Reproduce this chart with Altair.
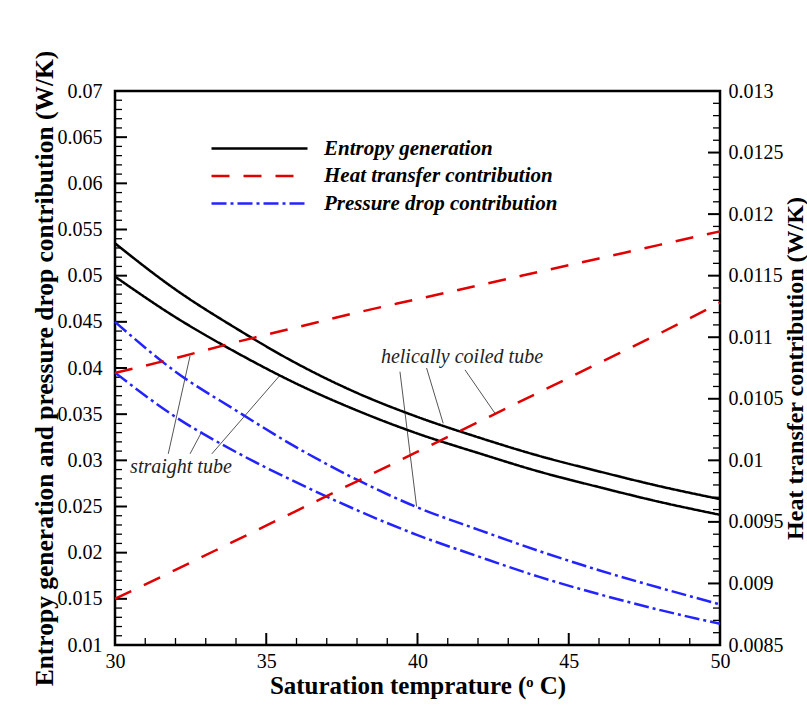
import altair as alt
import pandas as pd

# ---------------- data ----------------
temps = [30, 32, 34, 36, 38, 40, 42, 44, 46, 48, 50]

entropy_helical = [0.0535, 0.0485, 0.0443, 0.0405, 0.0373, 0.0347, 0.0325, 0.0305, 0.0288, 0.0272, 0.0258]
entropy_straight = [0.0499, 0.0455, 0.0417, 0.0383, 0.0354, 0.0329, 0.0308, 0.0288, 0.0271, 0.0255, 0.0241]
pressure_helical = [0.0450, 0.0396, 0.0354, 0.0314, 0.0279, 0.0249, 0.0225, 0.0202, 0.0181, 0.0162, 0.0144]
pressure_straight = [0.0395, 0.0347, 0.0309, 0.0276, 0.0246, 0.0219, 0.0196, 0.0174, 0.0155, 0.0138, 0.0123]
heat_straight = [0.01071, 0.01083, 0.01096, 0.01108, 0.01120, 0.01131, 0.01142, 0.01153, 0.01164, 0.01175, 0.01186]
heat_helical = [0.008875, 0.00911, 0.00935, 0.00959, 0.00983, 0.01007, 0.01031, 0.01055, 0.01079, 0.01103, 0.01128]

series_names = ["Entropy generation", "Heat transfer contribution", "Pressure drop contribution"]
series_colors = ["#000000", "#e00000", "#2323ff"]
series_dashes = [[1, 0], [18, 14], [15, 4, 3, 4]]

# annotation leader lines (start -> end, left-axis units)
leader_t = [31.76, 32.48, 33.20, 39.42, 40.30, 41.57]
leader_v = [0.0307, 0.0307, 0.0307, 0.0396, 0.0400, 0.0398]
leader_t2 = [32.48, 32.87, 35.45, 39.97, 40.85, 42.56]
leader_v2 = [0.0413, 0.0331, 0.0392, 0.0250, 0.0340, 0.0351]

note_labels = ["straight tube", "helically coiled tube"]
note_t = [32.18, 41.47]
note_v = [0.0293, 0.0412]

x_major = [30, 35, 40, 45, 50]
x_minor = [t for t in range(30, 51) if t % 5]
left_major = [round(0.01 + 0.005 * i, 4) for i in range(13)]
left_minor = [round(0.01 + 0.001 * i, 4) for i in range(61) if i % 5]
right_major = [round(0.0085 + 0.0005 * i, 5) for i in range(10)]
right_minor = [round(0.0085 + 0.0001 * i, 5) for i in range(46) if i % 5]

# ---------------- tables ----------------
rows_left = []
for name, tube, vals in [
    ("Entropy generation", "helical", entropy_helical),
    ("Entropy generation", "straight", entropy_straight),
    ("Pressure drop contribution", "helical", pressure_helical),
    ("Pressure drop contribution", "straight", pressure_straight),
]:
    for t, v in zip(temps, vals):
        rows_left.append({"t": t, "v": v, "series": name, "tube": tube})
df_left = pd.DataFrame(rows_left)

rows_right = []
for name, tube, vals in [
    ("Heat transfer contribution", "straight", heat_straight),
    ("Heat transfer contribution", "helical", heat_helical),
]:
    for t, v in zip(temps, vals):
        rows_right.append({"t": t, "v": v, "series": name, "tube": tube})
df_right = pd.DataFrame(rows_right)

df_leaders = pd.DataFrame({"t": leader_t, "v": leader_v, "t2": leader_t2, "v2": leader_v2})
df_notes = pd.DataFrame({"t": note_t, "v": note_v, "label": note_labels})

W, H = 605, 554
SERIF = "Liberation Serif"

# ---------------- encodings ----------------
x_axis = alt.Axis(values=x_major, format="d", title="Saturation temprature (ᵒ C)",
                  titleFont=SERIF, titleFontSize=25, titleFontWeight="bold", titleColor="black",
                  labelFont=SERIF, labelFontSize=20, labelColor="black", labelFlush=False,
                  domain=False, ticks=False, grid=False, labelPadding=6, titlePadding=2)
left_axis = alt.Axis(orient="left", values=left_major, format=".3~f",
                     title="Entropy generation and pressure drop contribution (W/K)",
                     titleFont=SERIF, titleFontSize=25.5, titleFontWeight="bold", titleColor="black",
                     labelFont=SERIF, labelFontSize=20, labelColor="black", labelFlush=False,
                     domain=False, ticks=False, grid=False, labelPadding=13, titlePadding=0)
right_axis = alt.Axis(orient="right", values=right_major, format=".5~f",
                      title="Heat transfer contribution (W/K)",
                      titleFont=SERIF, titleFontSize=24, titleFontWeight="bold", titleColor="black",
                      titleAngle=270, titleBaseline="top",
                      labelFont=SERIF, labelFontSize=20, labelColor="black", labelFlush=False,
                      domain=False, ticks=False, grid=False, labelPadding=8, titlePadding=0)

x_enc = alt.X("t:Q", scale=alt.Scale(domain=[30, 50], nice=False, zero=False), axis=x_axis)
left_y = alt.Y("v:Q", scale=alt.Scale(domain=[0.01, 0.07], nice=False, zero=False), axis=left_axis)
right_y = alt.Y("v:Q", scale=alt.Scale(domain=[0.0085, 0.013], nice=False, zero=False), axis=right_axis)

legend = alt.Legend(title=None, orient="none", legendX=131, legendY=44,
                    symbolType="M-4,0L4,0", symbolSize=576, symbolStrokeWidth=2.5,
                    labelFont=SERIF, labelFontSize=21, labelFontStyle="italic",
                    labelFontWeight="bold", labelColor="black", labelOffset=51,
                    rowPadding=3.5, padding=0, labelLimit=500)
color_enc = alt.Color("series:N", scale=alt.Scale(domain=series_names, range=series_colors), legend=legend)
dash_enc = alt.StrokeDash("series:N", scale=alt.Scale(domain=series_names, range=series_dashes), legend=legend)

# ---------------- left-axis layer ----------------
left_lines = alt.Chart(df_left).mark_line(strokeWidth=2.5, interpolate="monotone").encode(
    x=x_enc, y=left_y, color=color_enc, strokeDash=dash_enc, detail="tube:N")

leaders = alt.Chart(df_leaders).mark_rule(color="#555555", strokeWidth=1).encode(
    x=x_enc, x2="t2:Q", y=left_y, y2="v2:Q")

notes = alt.Chart(df_notes).mark_text(font=SERIF, fontStyle="italic", fontSize=20,
                                      color="#222222", align="center", baseline="middle").encode(
    x=x_enc, y=left_y, text="label:N")

lmaj = alt.Chart(pd.DataFrame({"v": left_major})).mark_rule(color="black", strokeWidth=2).encode(
    x=alt.value(0), x2=alt.value(12), y=left_y)
lmin = alt.Chart(pd.DataFrame({"v": left_minor})).mark_rule(color="black", strokeWidth=1.3).encode(
    x=alt.value(0), x2=alt.value(7), y=left_y)
xmaj = alt.Chart(pd.DataFrame({"t": x_major})).mark_rule(color="black", strokeWidth=2).encode(
    x=x_enc, y=alt.value(H), y2=alt.value(H - 12))
xmin = alt.Chart(pd.DataFrame({"t": x_minor})).mark_rule(color="black", strokeWidth=1.3).encode(
    x=x_enc, y=alt.value(H), y2=alt.value(H - 7))

left_layer = alt.layer(lmaj, lmin, xmaj, xmin, leaders, notes, left_lines)

# ---------------- right-axis layer ----------------
right_lines = alt.Chart(df_right).mark_line(strokeWidth=2.5, interpolate="monotone").encode(
    x=x_enc, y=right_y, color=color_enc, strokeDash=dash_enc, detail="tube:N")
rmaj = alt.Chart(pd.DataFrame({"v": right_major})).mark_rule(color="black", strokeWidth=2).encode(
    x=alt.value(W - 12), x2=alt.value(W), y=right_y)
rmin = alt.Chart(pd.DataFrame({"v": right_minor})).mark_rule(color="black", strokeWidth=1.3).encode(
    x=alt.value(W - 7), x2=alt.value(W), y=right_y)

right_layer = alt.layer(rmaj, rmin, right_lines)

chart = alt.layer(left_layer, right_layer).resolve_scale(y="independent").properties(
    width=W, height=H,
    padding={"left": 115, "top": 91, "right": 87, "bottom": 76},
    autosize=alt.AutoSizeParams(type="none"),
    background="white",
).configure_view(stroke="black", strokeWidth=2.5)

chart.save("out.html", embed_options={"renderer": "svg", "actions": False})
